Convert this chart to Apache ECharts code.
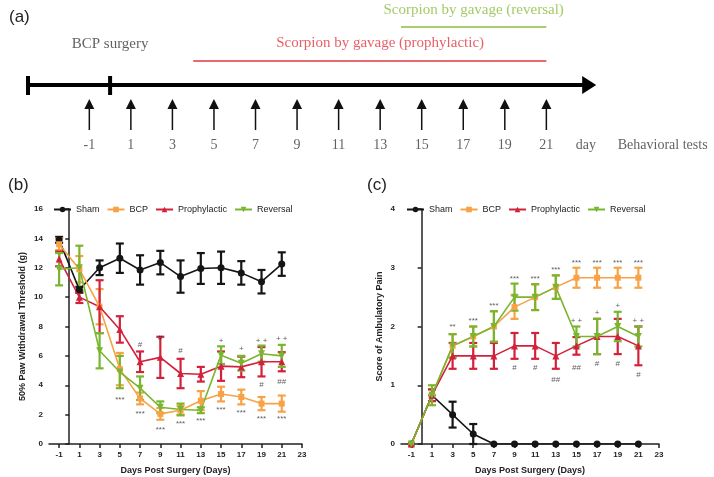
<!DOCTYPE html>
<html>
<head>
<meta charset="utf-8">
<script src="https://cdn.jsdelivr.net/npm/echarts@6.0.0/dist/echarts.min.js"></script>
<style>
  html, body { margin: 0; padding: 0; background: #fff; }
  #main { width: 714px; height: 477px; }
</style>
</head>
<body>
<div id="main"></div>
<script>
// ---- data ----
// (a) timeline
const testDays = [-1, 1, 3, 5, 7, 9, 11, 13, 15, 17, 19, 21];
const baselineDay = -4;
const surgeryDay = 0;
const timelineEnd = 23.4;
const prophylacticSpan = [4, 21];
const reversalSpan = [14, 21];

// (b) and (c) shared x
const days = [-1, 1, 3, 5, 7, 9, 11, 13, 15, 17, 19, 21];
const xTicks = [-1, 1, 3, 5, 7, 9, 11, 13, 15, 17, 19, 21, 23];
const seriesNames = ["Sham", "BCP", "Prophylactic", "Reversal"];

// (b) 50% paw withdrawal threshold (g)
const bSham = [13.9, 10.5, 12.0, 12.65, 11.85, 12.35, 11.4, 11.95, 12.0, 11.65, 11.05, 12.25];
const bShamErr = [0.2, 0.2, 0.5, 1.0, 1.0, 0.8, 1.1, 1.05, 1.1, 0.8, 0.8, 0.8];
const bBcp = [13.6, 11.9, 9.35, 5.1, 3.1, 2.05, 2.3, 2.95, 3.4, 3.2, 2.75, 2.75];
const bBcpErr = [0.4, 0.9, 1.2, 1.1, 0.4, 0.4, 0.3, 0.65, 0.5, 0.5, 0.45, 0.55];
const bProph = [12.6, 10.0, 9.35, 7.8, 5.6, 5.9, 4.8, 4.75, 5.3, 5.25, 5.6, 5.6];
const bProphErr = [0.5, 0.4, 1.8, 0.9, 0.7, 1.4, 1.0, 0.5, 1.0, 0.7, 1.0, 0.65];
const bRev = [11.9, 12.0, 6.35, 4.9, 3.8, 2.5, 2.35, 2.3, 6.05, 5.5, 6.15, 6.0];
const bRevErr = [1.1, 1.5, 1.2, 1.1, 0.8, 0.4, 0.4, 0.2, 0.6, 0.5, 0.55, 0.75];
const bMarks = [
  [5, 3.0, "***"], [7, 2.05, "***"], [9, 0.95, "***"], [11, 1.4, "***"], [13, 1.55, "***"],
  [15, 2.35, "***"], [17, 2.1, "***"], [19, 1.75, "***"], [21, 1.7, "***"],
  [7, 6.75, "#"], [9, 7.25, "#"], [11, 6.35, "#"], [19, 4.0, "#"], [21, 4.25, "##"],
  [15, 7.05, "+"], [17, 6.45, "+"], [19, 7.05, "+ +"], [21, 7.15, "+ +"]
];

// (c) score of ambulatory pain
const cSham = [0, 0.83, 0.5, 0.17, 0, 0, 0, 0, 0, 0, 0, 0];
const cShamErr = [0, 0, 0.22, 0.17, 0, 0, 0, 0, 0, 0, 0, 0];
const cBcp = [0, 0.83, 1.67, 1.83, 2.0, 2.33, 2.5, 2.67, 2.83, 2.83, 2.83, 2.83];
const cBcpErr = [0, 0.1, 0.2, 0.17, 0.26, 0.2, 0.22, 0.2, 0.17, 0.17, 0.17, 0.17];
const cProph = [0, 0.83, 1.5, 1.5, 1.5, 1.67, 1.67, 1.5, 1.67, 1.83, 1.83, 1.67];
const cProphErr = [0, 0.1, 0.22, 0.22, 0.22, 0.22, 0.22, 0.22, 0.15, 0.3, 0.3, 0.33];
const cRev = [0, 0.83, 1.67, 1.83, 2.0, 2.5, 2.5, 2.67, 1.83, 1.83, 2.0, 1.83];
const cRevErr = [0, 0.17, 0.2, 0.17, 0.26, 0.23, 0.22, 0.2, 0.17, 0.3, 0.25, 0.17];
const cMarks = [
  [3, 1.99, "**"], [5, 2.09, "***"], [7, 2.35, "***"], [9, 2.82, "***"], [11, 2.82, "***"],
  [13, 2.96, "***"], [15, 3.09, "***"], [17, 3.09, "***"], [19, 3.09, "***"], [21, 3.09, "***"],
  [9, 1.3, "#"], [11, 1.3, "#"], [13, 1.1, "##"], [15, 1.3, "##"], [17, 1.36, "#"], [19, 1.36, "#"], [21, 1.17, "#"],
  [15, 2.09, "+ +"], [17, 2.24, "+"], [19, 2.35, "+"], [21, 2.09, "+ +"]
];

// ---- styles ----
const colors = { Sham: "#151515", BCP: "#f7a246", Prophylactic: "#d2223b", Reversal: "#79b630" };
const symbols = { Sham: "circle", BCP: "rect", Prophylactic: "triangle", Reversal: "triangle" };
const serif = '"Liberation Serif", "DejaVu Serif", serif';
const sans = '"Liberation Sans", Arial, sans-serif';
const grayText = "#3a3a3a";

var myChart = echarts.init(document.getElementById("main"));

// mean line + error bars for one group in one panel
function groupSeries(panel, name, means, errs) {
  const color = colors[name];
  const line = {
    name: name,
    type: "line",
    xAxisIndex: panel,
    yAxisIndex: panel,
    data: days.map((d, i) => [d, means[i]]),
    symbol: symbols[name],
    symbolSize: name === "BCP" ? 6 : 7,
    symbolRotate: name === "Reversal" ? 180 : 0,
    itemStyle: { color: color },
    lineStyle: { color: color, width: 1.6 },
    z: 3,
    silent: true,
    animation: false
  };
  const bars = {
    type: "custom",
    xAxisIndex: panel,
    yAxisIndex: panel,
    data: days.map((d, i) => [d, means[i], errs[i]]),
    encode: { x: 0, y: 1 },
    z: 3,
    silent: true,
    animation: false,
    renderItem: function (params, api) {
      const x = api.value(0), m = api.value(1), e = api.value(2);
      if (!e) return null;
      const t = api.coord([x, m + e]);
      const b = api.coord([x, m - e]);
      const st = { stroke: color, lineWidth: 2.2 };
      return {
        type: "group",
        children: [
          { type: "line", shape: { x1: t[0], y1: t[1], x2: b[0], y2: b[1] }, style: st },
          { type: "line", shape: { x1: t[0] - 4, y1: t[1], x2: t[0] + 4, y2: t[1] }, style: st },
          { type: "line", shape: { x1: b[0] - 4, y1: b[1], x2: b[0] + 4, y2: b[1] }, style: st }
        ]
      };
    }
  };
  return [bars, line];
}

function markSeries(panel, marks) {
  return {
    type: "scatter",
    xAxisIndex: panel,
    yAxisIndex: panel,
    data: marks,
    symbolSize: 0,
    silent: true,
    animation: false,
    z: 5,
    label: {
      show: true,
      position: "inside",
      formatter: (p) => p.data[2],
      color: "#333",
      fontSize: 8,
      fontFamily: sans
    }
  };
}

function textSeries(data, color, size) {
  return {
    type: "scatter",
    xAxisIndex: 0,
    yAxisIndex: 0,
    data: data,
    symbolSize: 0,
    silent: true,
    animation: false,
    label: {
      show: true,
      position: "inside",
      formatter: (p) => (p.data[2] !== undefined ? p.data[2] : String(p.data[0])),
      color: color,
      fontSize: size,
      fontFamily: serif
    }
  };
}

function treatmentLine(span, lineY, color) {
  return {
    type: "custom",
    xAxisIndex: 0,
    yAxisIndex: 0,
    data: [[span[0], span[1]]],
    silent: true,
    animation: false,
    renderItem: function (params, api) {
      const a = api.coord([api.value(0), lineY]);
      const b = api.coord([api.value(1), lineY]);
      return {
        type: "line",
        shape: { x1: a[0], y1: a[1], x2: b[0], y2: b[1] },
        style: { stroke: color, lineWidth: 1.6 }
      };
    }
  };
}

const axisText = { fontSize: 8, fontWeight: "bold", color: "#222", fontFamily: sans };
const axisLine = { show: true, lineStyle: { color: "#222", width: 1.5 } };
const axisTick = { show: true, length: 4, lineStyle: { color: "#222", width: 1.5 } };

function panelXAxis(grid) {
  return {
    type: "value",
    gridIndex: grid,
    min: -2,
    max: 23,
    name: "Days Post Surgery (Days)",
    nameLocation: "middle",
    nameGap: 22,
    nameTextStyle: { fontSize: 9, fontWeight: "bold", color: "#222", fontFamily: sans },
    axisLine: axisLine,
    axisTick: Object.assign({}, axisTick, { customValues: xTicks }),
    axisLabel: Object.assign({}, axisText, { customValues: xTicks, margin: 7 }),
    splitLine: { show: false }
  };
}

function panelYAxis(grid, max, interval, name, gap) {
  return {
    type: "value",
    gridIndex: grid,
    min: 0,
    max: max,
    interval: interval,
    name: name,
    nameLocation: "middle",
    nameGap: gap,
    nameTextStyle: { fontSize: 9, fontWeight: "bold", color: "#222", fontFamily: sans },
    axisLine: axisLine,
    axisTick: axisTick,
    axisLabel: Object.assign({}, axisText, { margin: 6 }),
    splitLine: { show: false }
  };
}

const legendBase = {
  data: seriesNames,
  top: 205,
  padding: 0,
  itemWidth: 17,
  itemHeight: 7,
  itemGap: 7,
  selectedMode: false,
  textStyle: { fontSize: 9, color: "#222", fontFamily: sans }
};

var series = [];

// (a) timeline
series.push({
  type: "custom",
  xAxisIndex: 0,
  yAxisIndex: 0,
  data: [[baselineDay, surgeryDay, timelineEnd]],
  silent: true,
  animation: false,
  renderItem: function (params, api) {
    const y = 85;
    const a = api.coord([api.value(0), y]);
    const s = api.coord([api.value(1), y]);
    const e = api.coord([api.value(2), y]);
    const st = { stroke: "#000", lineWidth: 4 };
    return {
      type: "group",
      children: [
        { type: "line", shape: { x1: a[0], y1: a[1], x2: e[0] - 10, y2: e[1] }, style: st },
        { type: "polygon", shape: { points: [[e[0] - 14, e[1] - 9], [e[0], e[1]], [e[0] - 14, e[1] + 9]] }, style: { fill: "#000" } },
        { type: "line", shape: { x1: a[0] + 1, y1: a[1] - 9, x2: a[0] + 1, y2: a[1] + 10 }, style: st },
        { type: "line", shape: { x1: s[0], y1: s[1] - 9, x2: s[0], y2: s[1] + 10 }, style: st }
      ]
    };
  }
});
series.push({
  type: "custom",
  xAxisIndex: 0,
  yAxisIndex: 0,
  data: testDays.map((d) => [d]),
  silent: true,
  animation: false,
  renderItem: function (params, api) {
    const top = api.coord([api.value(0), 99]);
    const bot = api.coord([api.value(0), 130]);
    return {
      type: "group",
      children: [
        { type: "line", shape: { x1: bot[0], y1: bot[1], x2: top[0], y2: top[1] + 6 }, style: { stroke: "#111", lineWidth: 1.5 } },
        { type: "polygon", shape: { points: [[top[0] - 5, top[1] + 10], [top[0], top[1]], [top[0] + 5, top[1] + 10]] }, style: { fill: "#111" } }
      ]
    };
  }
});
series.push(textSeries(testDays.map((d) => [d, 145]), grayText, 14));
series.push(textSeries([[baselineDay - 0.05, 145, "baseline"], [22.9, 145, "day"], [26.6, 145, "Behavioral tests"]], grayText, 14));
series.push(textSeries([[surgeryDay, 44, "BCP surgery"]], grayText, 15));
series.push(treatmentLine(prophylacticSpan, 61, "#e3363f"));
series.push(textSeries([[(prophylacticSpan[0] + prophylacticSpan[1]) / 2 + 0.5, 43, "Scorpion by gavage (prophylactic)"]], "#e3363f", 15));
series.push(treatmentLine(reversalSpan, 27, "#8cbd3f"));
series.push(textSeries([[(reversalSpan[0] + reversalSpan[1]) / 2, 10, "Scorpion by gavage (reversal)"]], "#8cbd3f", 15));

// (b)
series = series.concat(
  groupSeries(1, "Sham", bSham, bShamErr),
  groupSeries(1, "BCP", bBcp, bBcpErr),
  groupSeries(1, "Prophylactic", bProph, bProphErr),
  groupSeries(1, "Reversal", bRev, bRevErr),
  [markSeries(1, bMarks)]
);
// (c)
series = series.concat(
  groupSeries(2, "Sham", cSham, cShamErr),
  groupSeries(2, "BCP", cBcp, cBcpErr),
  groupSeries(2, "Prophylactic", cProph, cProphErr),
  groupSeries(2, "Reversal", cRev, cRevErr),
  [markSeries(2, cMarks)]
);

var option = {
  backgroundColor: "#fff",
  animation: false,
  title: [
    { text: "(a)", left: 4, top: 4, textStyle: { fontSize: 17, fontWeight: "normal", color: "#222", fontFamily: sans } },
    { text: "(b)", left: 3, top: 172, textStyle: { fontSize: 17, fontWeight: "normal", color: "#222", fontFamily: sans } },
    { text: "(c)", left: 362, top: 172, textStyle: { fontSize: 17, fontWeight: "normal", color: "#222", fontFamily: sans } }
  ],
  legend: [
    Object.assign({}, legendBase, { left: 53 }),
    Object.assign({}, legendBase, { left: 406 })
  ],
  grid: [
    { left: 27, top: 0, width: 644, height: 160 },
    { left: 49, top: 209, width: 253, height: 235 },
    { left: 401, top: 209, width: 258, height: 235 }
  ],
  xAxis: [
    { type: "value", gridIndex: 0, min: -4, max: 27, show: false },
    panelXAxis(1),
    panelXAxis(2)
  ],
  yAxis: [
    { type: "value", gridIndex: 0, min: 0, max: 160, inverse: true, show: false },
    panelYAxis(1, 16, 2, "50% Paw Withdrawal Threshold (g)", 22),
    panelYAxis(2, 4, 1, "Score of Ambulatory Pain", 17)
  ],
  series: series
};

myChart.setOption(option);
</script>
</body>
</html>
